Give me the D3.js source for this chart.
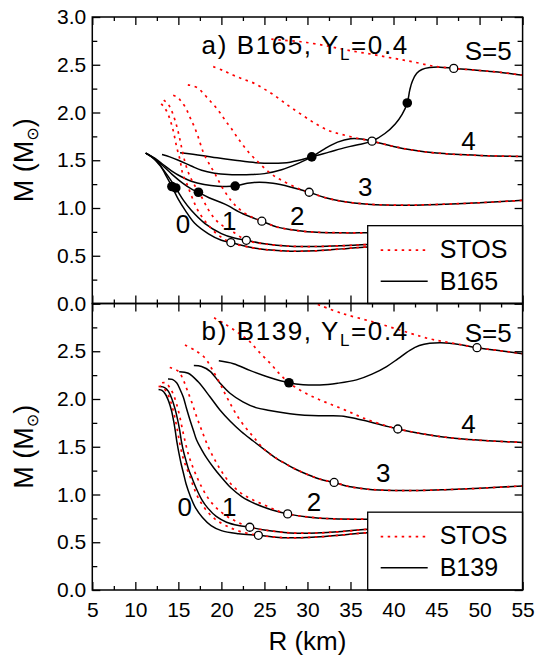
<!DOCTYPE html>
<head>
<meta charset="utf-8">
<title>M-R curves, B165 / B139</title>
<style>
  body { margin: 0; background: #fff; }
  text { font-family: "Liberation Sans", Arial, sans-serif; }
</style>
</head>

<script src="https://d3js.org/d3.v7.min.js"></script>

<div id="chart"></div>

<script>
// ---- data (R in km, M in solar masses) ----
var spinNames = ["0", "1", "2", "3", "4", "S=5"];

// panel a) B165, solid curves for S = 0..5
var b165Solid = [
  [[11.2,1.575],[12.0,1.53],[12.8,1.46],[13.5,1.35],[14.25,1.225],[15.0,1.09],[15.8,0.975],[16.9,0.84],[18.5,0.73],[20.0,0.662],[21.1,0.638],[23.5,0.586],[25.0,0.566],[28.0,0.548],[31.0,0.552],[34.0,0.572],[37.0,0.592],[42.0,0.605],[48.0,0.612],[55.0,0.62]],
  [[11.2,1.575],[12.1,1.52],[13.0,1.43],[13.9,1.32],[14.7,1.21],[15.6,1.08],[16.5,0.976],[18.1,0.837],[20.0,0.732],[21.5,0.685],[22.9,0.662],[25.0,0.625],[28.0,0.60],[31.0,0.597],[34.0,0.605],[37.0,0.618],[42.0,0.628],[48.0,0.635],[55.0,0.64]],
  [[11.2,1.575],[12.2,1.52],[13.1,1.45],[14.3,1.35],[15.5,1.26],[16.5,1.2],[17.33,1.165],[18.5,1.11],[20.4,1.04],[22.5,0.94],[24.7,0.862],[26.5,0.80],[28.0,0.774],[30.0,0.752],[33.9,0.74],[37.0,0.74],[45.0,0.745],[55.0,0.75]],
  [[11.2,1.575],[12.3,1.52],[13.3,1.45],[14.2,1.39],[15.3,1.33],[16.5,1.28],[18.0,1.245],[19.6,1.228],[21.6,1.23],[23.0,1.258],[24.4,1.27],[26.0,1.258],[28.0,1.22],[30.2,1.165],[32.0,1.11],[34.0,1.07],[37.0,1.04],[41.9,1.03],[46.0,1.04],[50.0,1.055],[55.0,1.08]],
  [[13.1,1.56],[14.0,1.535],[15.0,1.50],[16.5,1.44],[17.7,1.395],[19.2,1.365],[20.8,1.35],[22.0,1.348],[23.5,1.35],[25.0,1.36],[27.0,1.40],[29.0,1.47],[30.5,1.535],[32.0,1.62],[33.5,1.69],[35.0,1.725],[36.3,1.722],[37.5,1.70],[40.0,1.645],[42.0,1.61],[45.0,1.575],[50.0,1.55],[55.0,1.54]],
  [[15.2,1.578],[17.7,1.55],[19.5,1.525],[21.6,1.50],[24.0,1.475],[26.0,1.468],[28.0,1.48],[30.5,1.535],[32.5,1.585],[34.5,1.635],[36.0,1.665],[37.5,1.70],[39.0,1.78],[40.2,1.88],[41.0,1.98],[41.6,2.10],[41.9,2.24],[42.2,2.33],[42.7,2.41],[43.3,2.45],[44.2,2.47],[45.4,2.475],[47.0,2.462],[50.0,2.44],[52.5,2.42],[55.0,2.39]]
];
// STOS curves for panel a), up to where they join the solid ones
var b165Stos = [
  [[13.0,2.09],[13.4,2.05],[13.9,1.96],[14.4,1.81],[14.8,1.64],[15.2,1.50],[15.5,1.36],[16.0,1.25],[16.6,1.11],[17.3,0.97],[18.3,0.84],[19.6,0.72],[21.1,0.638]],
  [[13.3,2.13],[13.8,2.09],[14.3,2.0],[14.8,1.86],[15.2,1.71],[15.5,1.58],[15.9,1.44],[16.4,1.32],[17.0,1.22],[17.7,1.115],[18.5,0.98],[19.3,0.88],[20.2,0.81],[21.2,0.76],[22.9,0.662]],
  [[14.4,2.18],[14.9,2.16],[15.3,2.12],[15.85,2.05],[16.3,1.96],[16.76,1.87],[17.2,1.77],[17.6,1.66],[18.0,1.56],[18.6,1.46],[19.3,1.35],[20.2,1.2],[21.2,1.07],[22.2,0.98],[23.4,0.91],[24.7,0.862]],
  [[16.1,2.29],[17.2,2.26],[18.0,2.19],[18.7,2.12],[19.3,2.06],[19.9,1.99],[20.5,1.91],[21.1,1.84],[22.0,1.72],[23.2,1.58],[24.4,1.47],[25.6,1.37],[26.8,1.30],[28.8,1.21],[30.2,1.165]],
  [[19.05,2.48],[20.2,2.44],[21.4,2.39],[22.5,2.35],[23.7,2.31],[24.9,2.25],[26.0,2.19],[27.2,2.11],[28.3,2.04],[29.7,1.955],[31.0,1.88],[32.5,1.81],[34.0,1.77],[35.8,1.73],[37.5,1.70]],
  [[25.8,2.768],[27.0,2.757],[28.7,2.747],[29.9,2.733],[31.8,2.705],[33.7,2.67],[35.7,2.636],[37.5,2.61],[39.2,2.58],[40.8,2.555],[42.3,2.53],[44.6,2.486],[47.0,2.462]]
];
var b165Filled = [[14.25,1.225],[14.7,1.21],[17.33,1.165],[21.6,1.23],[30.5,1.535],[41.6,2.10]];
var b165Open = [[21.1,0.638],[22.9,0.662],[24.7,0.862],[30.2,1.165],[37.5,1.70],[47.0,2.462]];
var b165LabelAt = [[15.55,0.742],[20.9,0.774],[28.8,0.82],[36.7,1.123],[48.7,1.61],[51.0,2.553]];

// panel b) B139
var b139Solid = [
  [[12.7,2.10],[13.1,2.09],[13.5,2.05],[13.9,1.97],[14.2,1.88],[14.45,1.77],[14.65,1.66],[14.85,1.54],[15.05,1.44],[15.3,1.33],[15.6,1.22],[15.9,1.11],[16.4,0.98],[17.0,0.86],[17.8,0.76],[18.8,0.675],[20.0,0.622],[22.0,0.59],[24.3,0.573],[26.0,0.556],[28.0,0.546],[30.0,0.55],[32.0,0.56],[34.0,0.576],[37.0,0.60],[45.0,0.615],[55.0,0.625]],
  [[12.9,2.13],[13.4,2.12],[13.85,2.08],[14.25,2.0],[14.6,1.9],[14.9,1.79],[15.15,1.675],[15.35,1.56],[15.6,1.45],[15.9,1.35],[16.2,1.26],[16.6,1.17],[17.1,1.06],[17.7,0.95],[18.4,0.86],[19.4,0.77],[20.6,0.71],[22.0,0.675],[23.3,0.657],[25.0,0.628],[28.0,0.598],[31.0,0.597],[34.0,0.612],[37.0,0.636],[45.0,0.645],[55.0,0.65]],
  [[13.8,2.21],[14.3,2.205],[14.8,2.17],[15.2,2.10],[15.57,2.02],[15.95,1.90],[16.35,1.78],[16.75,1.67],[17.12,1.57],[17.7,1.47],[18.3,1.38],[19.1,1.28],[20.0,1.18],[21.1,1.07],[22.4,0.975],[24.0,0.9],[25.8,0.84],[27.7,0.797],[30.0,0.765],[33.0,0.745],[37.0,0.742],[45.0,0.75],[55.0,0.76]],
  [[15.1,2.286],[16.15,2.27],[17.3,2.18],[18.67,2.024],[19.83,1.885],[21.0,1.77],[22.3,1.66],[23.7,1.56],[25.0,1.47],[26.2,1.39],[27.5,1.32],[28.5,1.27],[30.0,1.21],[31.5,1.16],[33.1,1.126],[35.0,1.08],[37.0,1.055],[40.0,1.042],[43.0,1.042],[46.0,1.05],[50.0,1.065],[55.0,1.09]],
  [[16.8,2.35],[17.7,2.34],[18.7,2.29],[19.8,2.17],[21.0,2.06],[22.5,1.97],[24.0,1.91],[25.6,1.88],[27.2,1.855],[28.7,1.838],[30.5,1.826],[32.5,1.825],[34.2,1.82],[35.8,1.79],[37.3,1.76],[39.0,1.72],[40.5,1.686],[42.5,1.65],[44.2,1.623],[46.0,1.60],[48.1,1.58],[51.0,1.562],[55.0,1.545]],
  [[19.7,2.40],[21.4,2.37],[23.3,2.30],[25.6,2.225],[27.85,2.17],[29.5,2.15],[31.45,2.147],[33.5,2.165],[35.7,2.20],[37.5,2.26],[39.2,2.34],[40.5,2.42],[41.9,2.51],[43.0,2.56],[44.2,2.585],[45.5,2.59],[46.5,2.585],[48.0,2.565],[49.7,2.537],[52.0,2.51],[55.0,2.475]]
];
var b139Stos = [
  [[12.7,2.13],[13.1,2.13],[13.6,2.08],[14.05,1.99],[14.4,1.88],[14.7,1.76],[14.95,1.64],[15.2,1.52],[15.5,1.40],[15.9,1.29],[16.35,1.19],[16.8,1.07],[17.4,0.95],[18.2,0.84],[19.3,0.74],[20.6,0.67],[22.3,0.61],[24.3,0.573]],
  [[13.1,2.17],[13.5,2.17],[14.0,2.12],[14.45,2.04],[14.85,1.93],[15.2,1.80],[15.5,1.67],[15.8,1.55],[16.1,1.44],[16.5,1.33],[17.12,1.19],[17.7,1.08],[18.4,0.97],[19.3,0.87],[20.5,0.78],[21.9,0.71],[23.3,0.657]],
  [[14.0,2.33],[15.0,2.29],[15.57,2.20],[16.0,2.10],[16.54,1.97],[17.12,1.815],[17.7,1.675],[18.47,1.50],[19.25,1.36],[20.03,1.24],[21.0,1.12],[22.2,1.02],[23.5,0.95],[25.0,0.89],[26.5,0.83],[27.7,0.797]],
  [[15.77,2.565],[16.93,2.51],[18.09,2.43],[18.87,2.32],[19.83,2.164],[20.8,1.99],[22.15,1.78],[23.7,1.605],[25.06,1.466],[26.2,1.39],[27.5,1.32],[28.5,1.27],[30.0,1.21],[31.5,1.16],[33.1,1.126]],
  [[19.15,2.85],[20.5,2.78],[22.0,2.69],[23.3,2.60],[24.3,2.50],[25.6,2.38],[26.8,2.26],[27.85,2.17],[29.2,2.09],[30.7,2.02],[32.0,1.97],[33.4,1.92],[35.0,1.86],[36.5,1.80],[38.4,1.74],[40.5,1.686]],
  [[31.2,2.99],[33.9,2.90],[37.9,2.80],[41.9,2.69],[44.2,2.63],[45.9,2.60],[47.8,2.57],[49.7,2.537]]
];
var b139Filled = [[27.85,2.17]];
var b139Open = [[24.3,0.573],[23.3,0.657],[27.7,0.797],[33.1,1.126],[40.5,1.686],[49.7,2.537]];
var b139LabelAt = [[15.73,0.77],[20.9,0.77],[30.75,0.822],[38.8,1.126],[48.7,1.643],[51.0,2.60]];

var xMajor = [5, 10, 15, 20, 25, 30, 35, 40, 45, 50, 55];
var yMajor = [0.0, 0.5, 1.0, 1.5, 2.0, 2.5, 3.0];

// ---- layout ----
var W = 535, H = 656;
var left = 92.3, right = 522.6;
var panelH = 286.5;
var panelTops = [17, 17 + panelH];

var svg = d3.select("#chart").append("svg")
    .attr("width", W)
    .attr("height", H);

var x = d3.scaleLinear().domain([5, 55]).range([left, right]);

function drawPanel(i, top, solid, stos, filled, open, labelAt, title, legendName, labelTop) {
  var y = d3.scaleLinear().domain([0, 3]).range([top + panelH, top]);
  var g = svg.append("g");

  var clipId = "clip" + i;
  svg.append("clipPath").attr("id", clipId)
    .append("rect")
      .attr("x", left).attr("y", top)
      .attr("width", right - left).attr("height", panelH);

  var path = d3.line()
      .x(function(d) { return x(d[0]); })
      .y(function(d) { return y(d[1]); })
      .curve(d3.curveCatmullRom.alpha(0.5));

  // STOS follows the solid curve once they meet
  var stosFull = stos.map(function(s, k) {
    var last = s[s.length - 1][0];
    return s.concat(solid[k].filter(function(p) { return p[0] > last; }));
  });

  var curves = g.append("g").attr("clip-path", "url(#" + clipId + ")");
  curves.selectAll(".solid")
    .data(solid)
    .enter().append("path")
      .attr("d", path)
      .attr("fill", "none")
      .attr("stroke", "#000")
      .attr("stroke-width", 1.5);

  curves.selectAll(".stos")
    .data(stosFull)
    .enter().append("path")
      .attr("d", path)
      .attr("fill", "none")
      .attr("stroke", "#ff0000")
      .attr("stroke-width", 1.7)
      .attr("stroke-dasharray", "2.5,4.5");

  g.selectAll(".filled")
    .data(filled)
    .enter().append("circle")
      .attr("cx", function(d) { return x(d[0]); })
      .attr("cy", function(d) { return y(d[1]); })
      .attr("r", 4.8)
      .attr("fill", "#000");

  g.selectAll(".open")
    .data(open)
    .enter().append("circle")
      .attr("cx", function(d) { return x(d[0]); })
      .attr("cy", function(d) { return y(d[1]); })
      .attr("r", 4)
      .attr("fill", "#fff")
      .attr("stroke", "#000")
      .attr("stroke-width", 1.3);

  // curve labels
  g.selectAll(".lab")
    .data(labelAt)
    .enter().append("text")
      .attr("x", function(d) { return x(d[0]); })
      .attr("y", function(d) { return y(d[1]); })
      .attr("text-anchor", "middle")
      .style("font-size", "26px")
      .text(function(d, k) { return spinNames[k]; });

  // title
  var t = g.append("text")
      .attr("x", x(17.7))
      .attr("y", y(labelTop))
      .style("font-size", "26px")
      .style("letter-spacing", "1.6px");
  t.append("tspan").text(title);
  t.append("tspan").attr("dy", 6).style("font-size", "17px").text("L");
  t.append("tspan").attr("dy", -6).text("=0.4");

  // ticks, inward on all four sides
  var xMinor = d3.range(7.5, 55, 5);
  var yMinor = d3.range(0.25, 3, 0.5);
  var ax = [
    [d3.axisBottom(x).tickValues(xMajor).tickSize(-8), "translate(0," + (top + panelH) + ")", i == 1],
    [d3.axisBottom(x).tickValues(xMinor).tickSize(-4), "translate(0," + (top + panelH) + ")", false],
    [d3.axisTop(x).tickValues(xMajor).tickSize(-8), "translate(0," + top + ")", false],
    [d3.axisTop(x).tickValues(xMinor).tickSize(-4), "translate(0," + top + ")", false],
    [d3.axisLeft(y).tickValues(yMajor).tickSize(-8), "translate(" + left + ",0)", true],
    [d3.axisLeft(y).tickValues(yMinor).tickSize(-5), "translate(" + left + ",0)", false],
    [d3.axisRight(y).tickValues(yMajor).tickSize(-8), "translate(" + right + ",0)", false],
    [d3.axisRight(y).tickValues(yMinor).tickSize(-5), "translate(" + right + ",0)", false]
  ];
  ax.forEach(function(a, n) {
    var axis = a[0];
    if (a[2]) {
      axis.tickPadding(n === 0 ? 12 : 6)
        .tickFormat(n === 0 ? d3.format("d") : d3.format(".1f"));
    } else {
      axis.tickFormat("");
    }
    var ag = g.append("g").attr("transform", a[1]).call(axis);
    ag.select(".domain").remove();
    ag.selectAll(".tick line").attr("stroke", "#000").attr("stroke-width", 1.3);
    ag.selectAll("text").style("font-size", "21px").attr("fill", "#000")
      .style("font-family", "'Liberation Sans', Arial, sans-serif");
    // panel b) leaves out the 3.0 label shared with panel a)
    if (i == 1) ag.selectAll(".tick text").filter(function(d) { return d === 3; }).remove();
  });

  // legend box
  var lgTop = y(0.815);
  var lgLeft = x(37.0);
  var lg = g.append("g");
  lg.append("rect")
    .attr("x", lgLeft).attr("y", lgTop)
    .attr("width", right - lgLeft).attr("height", top + panelH - lgTop)
    .attr("fill", "#fff").attr("stroke", "#000").attr("stroke-width", 1.3);
  lg.append("line")
    .attr("x1", lgLeft + 13).attr("x2", lgLeft + 60)
    .attr("y1", lgTop + 24.5).attr("y2", lgTop + 24.5)
    .attr("stroke", "#ff0000").attr("stroke-width", 1.7)
    .attr("stroke-dasharray", "2.5,4.5");
  lg.append("text")
    .attr("x", lgLeft + 72).attr("y", lgTop + 32)
    .style("font-size", "25px").text("STOS");
  lg.append("line")
    .attr("x1", lgLeft + 13).attr("x2", lgLeft + 60)
    .attr("y1", lgTop + 55.5).attr("y2", lgTop + 55.5)
    .attr("stroke", "#000").attr("stroke-width", 1.5);
  lg.append("text")
    .attr("x", lgLeft + 72).attr("y", lgTop + 64)
    .style("font-size", "25px").text(legendName);

  // frame
  g.append("rect")
    .attr("x", left).attr("y", top)
    .attr("width", right - left).attr("height", panelH)
    .attr("fill", "none").attr("stroke", "#000").attr("stroke-width", 1.5);

  // y axis title
  var yt = g.append("text")
      .attr("transform", "translate(33," + (top + panelH / 2) + ") rotate(-90)")
      .attr("text-anchor", "middle")
      .style("font-size", "27px");
  yt.append("tspan").text("M (M");
  yt.append("tspan").attr("dy", 5).style("font-size", "16px")
    .style("font-family", "'DejaVu Sans', sans-serif").text("\u2299");
  yt.append("tspan").attr("dy", -5).text(")");
}

drawPanel(0, panelTops[0], b165Solid, b165Stos, b165Filled, b165Open, b165LabelAt, "a) B165, Y", "B165", 2.61);
drawPanel(1, panelTops[1], b139Solid, b139Stos, b139Filled, b139Open, b139LabelAt, "b) B139, Y", "B139", 2.62);

// x axis title
svg.append("text")
  .attr("x", x(30))
  .attr("y", 650)
  .attr("text-anchor", "middle")
  .style("font-size", "26px")
  .text("R (km)");
</script>
